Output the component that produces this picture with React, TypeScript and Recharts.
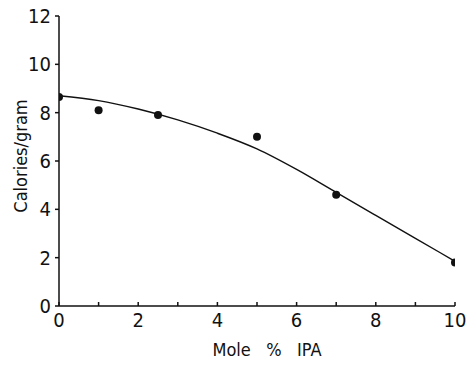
import { ComposedChart, Line, Scatter, XAxis, YAxis } from 'recharts'

// measured points
const moleX = [0, 1, 2.5, 5, 7, 10]
const calories = [8.65, 8.1, 7.9, 7.0, 4.6, 1.8]

// fitted curve as drawn
const curveX = [0, 1, 2, 3, 4, 5, 6, 7, 8, 9, 10]
const curveY = [8.7, 8.5, 8.15, 7.7, 7.15, 6.5, 5.65, 4.7, 3.75, 2.8, 1.85]

const xTicks = [0, 1, 2, 3, 4, 5, 6, 7, 8, 9, 10]
const yTicks = [0, 2, 4, 6, 8, 10, 12]

const points = moleX.map((x, i) => ({ x, y: calories[i] }))
const curve = curveX.map((x, i) => ({ x, fit: curveY[i] }))

const font = '"Liberation Sans Narrow", "DejaVu Sans Condensed", Arial, sans-serif'
const ink = '#111'

const XTick = (props: any) => {
  const { x, payload } = props
  if (payload.value % 2 !== 0) return null
  return (
    <text x={x} y={327} textAnchor="middle" fontFamily={font} fontSize={20} fill={ink}>
      {payload.value}
    </text>
  )
}

const YTitle = () => (
  <text
    x={20}
    y={156}
    transform="rotate(-90 20 156)"
    textAnchor="middle"
    dominantBaseline="central"
    fontFamily={font}
    fontSize={18}
    fill={ink}
  >
    Calories/gram
  </text>
)

const XTitle = () => (
  <text x={267} y={356} textAnchor="middle" fontFamily={font} fontSize={18} fill={ink} xmlSpace="preserve">
    {'Mole   %   IPA'}
  </text>
)

export default function App() {
  return (
    <div style={{ position: 'absolute', left: 0, top: 0, background: '#fff' }}>
      <ComposedChart
        width={474}
        height={371}
        margin={{ top: 16, right: 19, bottom: 0, left: 0 }}
      >
        <XAxis
          type="number"
          dataKey="x"
          domain={[0, 10]}
          ticks={xTicks}
          interval={0}
          tick={<XTick />}
          tickSize={-4}
          height={65}
          stroke={ink}
          strokeWidth={1.5}
          allowDataOverflow
          label={{ content: <XTitle /> }}
        />
        <YAxis
          type="number"
          domain={[0, 12]}
          ticks={yTicks}
          interval={0}
          width={59}
          tickSize={4}
          tickMargin={4}
          stroke={ink}
          strokeWidth={1.5}
          tick={{ fontFamily: font, fontSize: 20, fill: ink }}
          label={{ content: <YTitle /> }}
        />
        <Line
          data={curve}
          dataKey="fit"
          type="monotone"
          stroke={ink}
          strokeWidth={1.4}
          dot={false}
          isAnimationActive={false}
        />
        <Scatter
          data={points}
          dataKey="y"
          fill={ink}
          shape={(p: any) => <circle cx={p.cx} cy={p.cy} r={4} fill={ink} />}
          isAnimationActive={false}
        />
      </ComposedChart>
    </div>
  )
}
